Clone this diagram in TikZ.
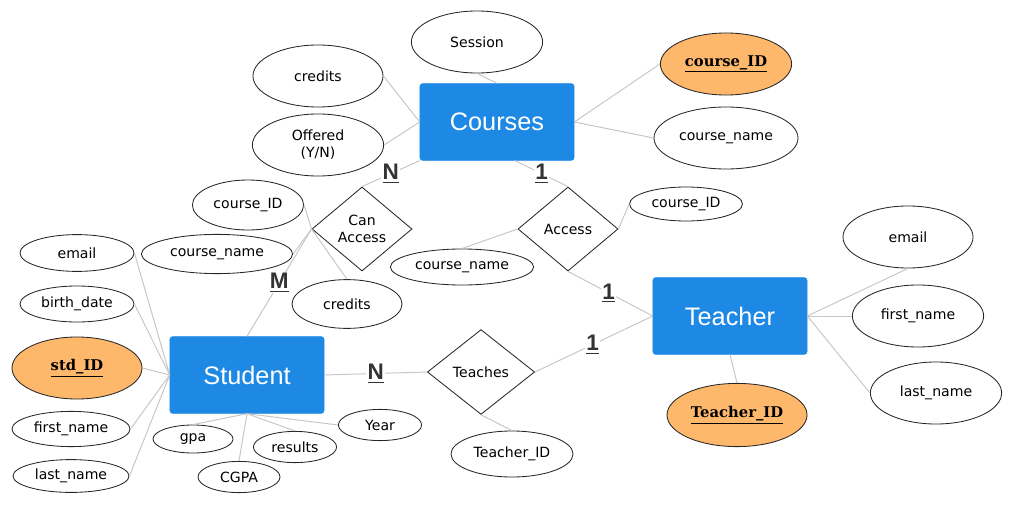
\documentclass[tikz,border=0pt]{standalone}
\usepackage{fontspec}
\setmainfont{DejaVu Sans}
\newfontfamily\entfont{Liberation Sans}
\newfontfamily\keyfont{DejaVu Serif}
\usepackage{xcolor}
\usetikzlibrary{shapes.geometric}
\definecolor{entblue}{RGB}{30,137,229}
\definecolor{keyorange}{RGB}{254,184,108}
\definecolor{cardgray}{RGB}{51,51,51}

\begin{document}
\begin{tikzpicture}[
  x=0.025cm, y=-0.025cm,
  entity/.style={draw=entblue, fill=entblue, rounded corners=2pt, minimum width=3.85cm, minimum height=1.92cm, text=white, font=\entfont\fontsize{18}{20}\selectfont},
  attr/.style={draw=black!85, line width=0.6pt, ellipse, inner sep=0pt, font=\fontsize{10}{12}\selectfont, align=center},
  keyattr/.style={attr, fill=keyorange, font=\keyfont\bfseries\fontsize{10.5}{12}\selectfont},
  rel/.style={draw=black!85, line width=0.6pt, diamond, inner sep=0pt, minimum width=2.5cm, minimum height=2.1cm, font=\fontsize{10}{12}\selectfont, align=center},
  link/.style={draw=black!22, line width=0.7pt},
  card/.style={fill=white, inner sep=1pt, text=cardgray, font=\entfont\bfseries\fontsize{16}{18}\selectfont}
]
\useasboundingbox (0,0) rectangle (1017,505);

% entities
\node[entity] (courses) at (497,122) {Courses};
\node[entity] (student) at (247,375) {Student};
\node[entity] (teacher) at (730,316) {Teacher};

% relationships
\node[rel] (canaccess) at (362,229) {Can\\Access};
\node[rel] (access) at (568,229) {Access};
\node[rel, minimum width=2.68cm, minimum height=2.12cm] (teaches) at (481,372) {Teaches};

% course attributes
\node[attr, minimum width=3.28cm, minimum height=1.55cm] (session) at (477,42) {Session};
\node[attr, minimum width=3.25cm, minimum height=1.55cm] (ccredits) at (318,76) {credits};
\node[attr, minimum width=3.28cm, minimum height=1.55cm] (offered) at (318,145) {Offered\\(Y/N)};
\node[keyattr, minimum width=3.28cm, minimum height=1.55cm] (cid) at (726,64) {\underline{course\_ID}};
\node[attr, minimum width=3.6cm, minimum height=1.55cm] (cname) at (726,138) {course\_name};

% can access attributes
\node[attr, minimum width=2.78cm, minimum height=1.25cm] (caid) at (248,205) {course\_ID};
\node[attr, minimum width=3.78cm, minimum height=0.98cm] (caname) at (217,254) {course\_name};
\node[attr, minimum width=2.75cm, minimum height=1.22cm] (cacredits) at (347,304) {credits};

% access attributes
\node[attr, minimum width=2.82cm, minimum height=0.85cm] (acid) at (686,204) {course\_ID};
\node[attr, minimum width=3.58cm, minimum height=0.9cm] (acname) at (462,267) {course\_name};

% teaches attribute
\node[attr, minimum width=3.05cm, minimum height=1.15cm] (ttid) at (512,454) {Teacher\_ID};

% student attributes
\node[attr, minimum width=2.85cm, minimum height=0.92cm] (semail) at (77,253) {email};
\node[attr, minimum width=2.85cm, minimum height=0.9cm] (sbirth) at (77,304) {birth\_date};
\node[keyattr, minimum width=3.25cm, minimum height=1.55cm] (sid) at (77,368) {\underline{std\_ID}};
\node[attr, minimum width=2.95cm, minimum height=0.88cm] (sfirst) at (71,429) {first\_name};
\node[attr, minimum width=2.9cm, minimum height=0.82cm] (slast) at (71,476) {last\_name};
\node[attr, minimum width=2cm, minimum height=0.7cm] (sgpa) at (193,439) {gpa};
\node[attr, minimum width=2.05cm, minimum height=0.78cm] (scgpa) at (239,477) {CGPA};
\node[attr, minimum width=2.08cm, minimum height=0.78cm] (sresults) at (295,447) {results};
\node[attr, minimum width=2.08cm, minimum height=0.78cm] (syear) at (380,425) {Year};

% teacher attributes
\node[attr, minimum width=3.25cm, minimum height=1.55cm] (temail) at (908,237) {email};
\node[attr, minimum width=3.28cm, minimum height=1.55cm] (tfirst) at (918,316) {first\_name};
\node[attr, minimum width=3.28cm, minimum height=1.55cm] (tlast) at (936,393) {last\_name};
\node[keyattr, minimum width=3.5cm, minimum height=1.58cm] (tid) at (737,415) {\underline{Teacher\_ID}};

% attribute links
\draw[link] (session.south) -- (courses.north);
\draw[link] (ccredits.east) -- (courses.west);
\draw[link] (offered.east) -- (courses.west);
\draw[link] (cid.west) -- (courses.east);
\draw[link] (cname.west) -- (courses.east);
\draw[link] (caid.east) -- (canaccess.west);
\draw[link] (caname.east) -- (canaccess.west);
\draw[link] (cacredits.north) -- (canaccess.west);
\draw[link] (acid.west) -- (access.east);
\draw[link] (acname.north) -- (access.west);
\draw[link] (ttid.north) -- (teaches.south);
\foreach \a in {semail,sbirth,sid,sfirst,slast}
  \draw[link] (\a.east) -- (student.west);
\foreach \a in {sgpa,scgpa,sresults}
  \draw[link] (\a.north) -- (student.south);
\draw[link] (syear.west) -- (student.south);
\draw[link] (temail.south) -- (teacher.east);
\draw[link] (tfirst.west) -- (teacher.east);
\draw[link] (tlast.west) -- (teacher.east);
\draw[link] (tid.north) -- (teacher.south);

% relationship links with cardinalities
\draw[link] (courses.south west) -- node[card] {\underline{N}} (canaccess.north);
\draw[link] (courses.-65) -- node[card] {\underline{1}} (access.north);
\draw[link] (student.north) -- node[card] {\underline{M}} (canaccess.west);
\draw[link] (access.south) -- node[card, pos=0.48] {\underline{1}} (teacher.west);
\draw[link] (teaches.east) -- node[card, pos=0.49] {\underline{1}} (teacher.west);
\draw[link] (student.east) -- node[card] {\underline{N}} (teaches.west);
\end{tikzpicture}
\end{document}
